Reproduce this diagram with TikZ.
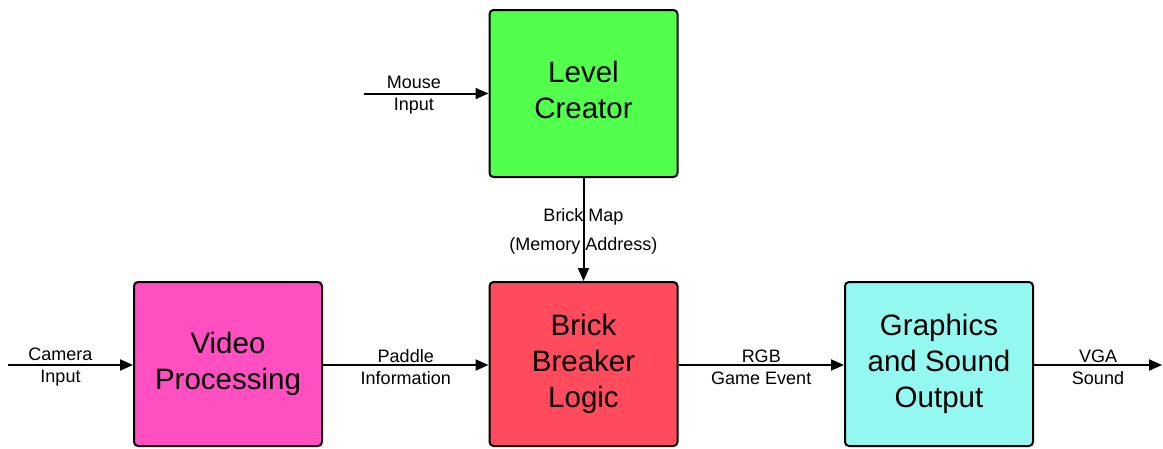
\documentclass[tikz,border=0pt]{standalone}
\usepackage{fontspec}
\setmainfont{Liberation Sans}
\usepackage{tikz}
\usetikzlibrary{arrows.meta}
\definecolor{creatorfill}{HTML}{53FF4D}
\definecolor{videofill}{HTML}{FF4FC0}
\definecolor{logicfill}{HTML}{FF4B5C}
\definecolor{outputfill}{HTML}{92F8F0}

\begin{document}
\begin{tikzpicture}[
  x=1pt, y=-1pt,
  block/.style = {draw=black, line width=2pt, rounded corners=4pt, align=center,
                  minimum width=188pt, minimum height=164pt,
                  font=\fontsize{29.5}{36}\selectfont},
  flow/.style  = {-{Triangle[length=13pt,width=11pt]}, line width=2pt, draw=black},
  sig/.style   = {align=center, font=\fontsize{18}{22}\selectfont, inner sep=0pt, yshift=-2pt},
]
\useasboundingbox (0,0) rectangle (1163,448);

\node[block, fill=creatorfill, minimum height=167pt] (creator) at (583.5,93.5) {Level\\Creator\rule[-8pt]{0pt}{0pt}};
\node[block, fill=videofill] (video) at (228,364) {Video\\Processing};
\node[block, fill=logicfill] (logic) at (583.5,364) {Brick\\Breaker\\Logic};
\node[block, fill=outputfill] (output) at (939,364) {Graphics\\and Sound\\Output};

\coordinate (mouse) at (364,93.5);
\coordinate (camera) at (8,365);
\coordinate (vga) at (1162,365);

\draw[flow] (mouse) -- node[sig, pos=0.4] {Mouse\\Input} (creator);
\draw[flow] (creator) -- node[sig, font=\fontsize{18}{29}\selectfont] {Brick Map\\(Memory Address)} (logic);
\draw[flow] (camera) -- node[sig, pos=0.42] {Camera\\Input} (camera -| video.west);
\draw[flow] (video.east |- camera) -- node[sig] {Paddle\\Information} (camera -| logic.west);
\draw[flow] (logic.east |- camera) -- node[sig] {RGB\\Game Event} (camera -| output.west);
\draw[flow] (output.east |- camera) -- node[sig] {VGA\\Sound} (vga);

\end{tikzpicture}
\end{document}
